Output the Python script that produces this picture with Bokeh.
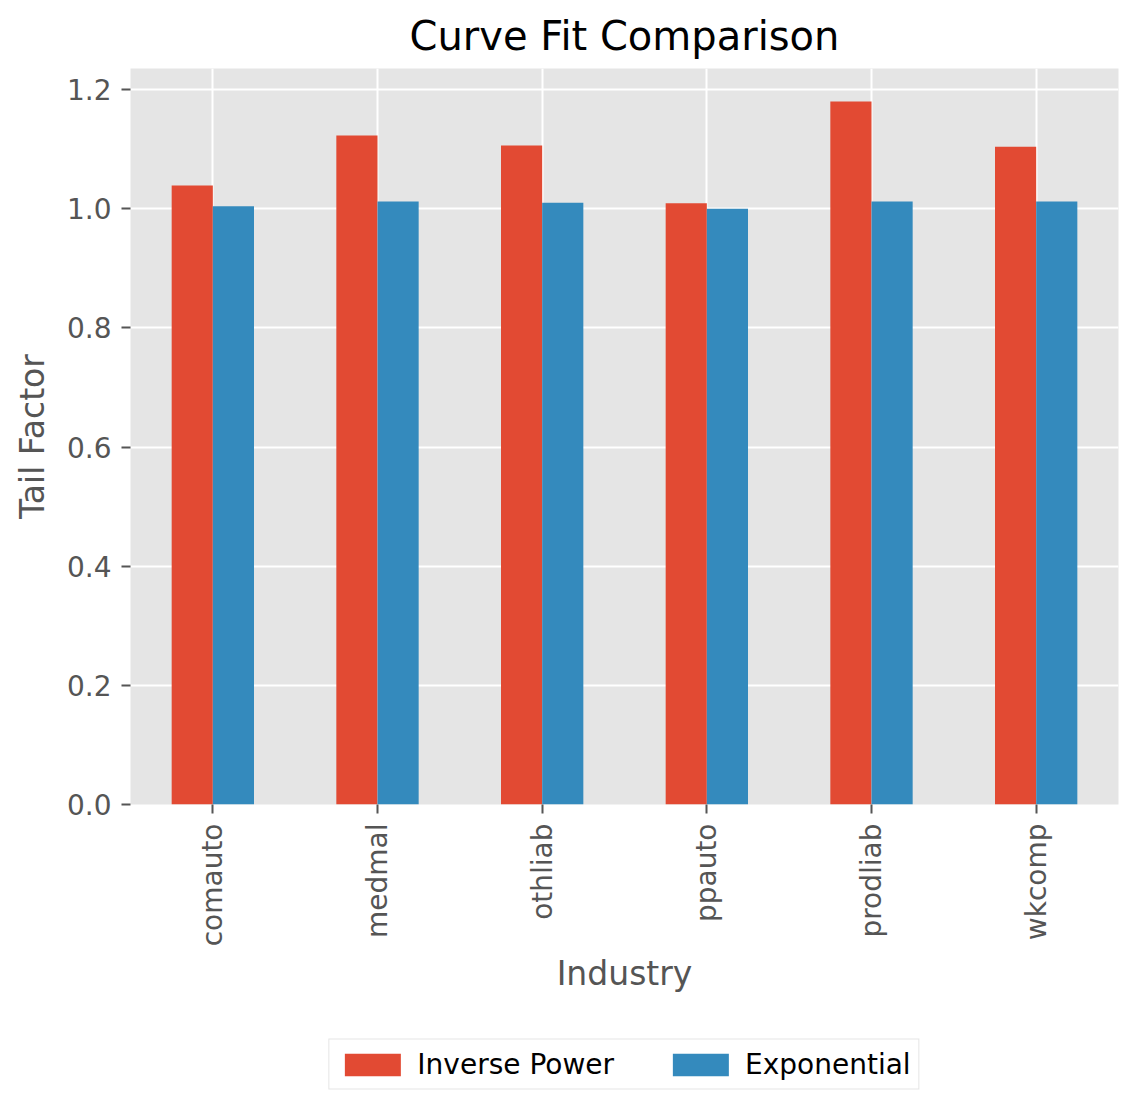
import math
from bokeh.plotting import figure
from bokeh.layouts import column
from bokeh.models import (ColumnDataSource, FactorRange, Range1d, FixedTicker,
                          PrintfTickFormatter, Legend, LegendItem)
from bokeh.transform import dodge
from bokeh.embed import file_html
from bokeh.resources import INLINE

industries = ["comauto", "medmal", "othliab", "ppauto", "prodliab", "wkcomp"]
inverse_power = [1.039, 1.123, 1.106, 1.009, 1.180, 1.104]
exponential = [1.004, 1.012, 1.010, 1.000, 1.012, 1.012]
y_ticks = [0.0, 0.2, 0.4, 0.6, 0.8, 1.0, 1.2]
series_labels = ["Inverse Power", "Exponential"]

FONT = "DejaVu Sans"
RED = "#E24A33"
BLUE = "#348ABD"
GREY = "#555555"

source = ColumnDataSource(dict(industry=industries, ip=inverse_power, ex=exponential))

p = figure(frame_width=988, frame_height=736, x_range=FactorRange(*industries),
           y_range=Range1d(0, 1.2353), output_backend="svg", toolbar_location=None,
           min_border_left=130, min_border_right=14, min_border_top=68,
           min_border_bottom=225)

p.title.text = "Curve Fit Comparison"
p.title.align = "center"
p.title.text_font = FONT
p.title.text_font_size = "40px"
p.title.text_font_style = "normal"
p.title.text_color = "black"
p.title.standoff = 19

p.background_fill_color = "#E5E5E5"
p.border_fill_color = "white"
p.outline_line_color = None

p.vbar(x=dodge("industry", -0.125, range=p.x_range), top="ip", width=0.25,
       source=source, fill_color=RED, line_color=None)
p.vbar(x=dodge("industry", 0.125, range=p.x_range), top="ex", width=0.25,
       source=source, fill_color=BLUE, line_color=None)

for g in (p.xgrid, p.ygrid):
    g.grid_line_color = "white"
    g.grid_line_width = 2

p.yaxis.ticker = FixedTicker(ticks=y_ticks)
p.yaxis.formatter = PrintfTickFormatter(format="%.1f")
p.yaxis.minor_tick_line_color = None

for ax in (p.xaxis, p.yaxis):
    ax.axis_line_color = None
    ax.major_tick_line_color = GREY
    ax.major_tick_line_width = 2
    ax.major_tick_in = 0
    ax.major_tick_out = 9
    ax.major_label_text_font = FONT
    ax.major_label_text_font_size = "28px"
    ax.major_label_text_color = GREY
    ax.major_label_standoff = 10
    ax.axis_label_text_font = FONT
    ax.axis_label_text_font_size = "33px"
    ax.axis_label_text_font_style = "normal"
    ax.axis_label_text_color = GREY

p.xaxis.axis_label = "Industry"
p.yaxis.axis_label = "Tail Factor"
p.xaxis.major_label_orientation = math.pi / 2
p.xaxis.axis_label_standoff = 5
p.yaxis.axis_label_standoff = 12

# legend strip below the chart (its bars lie outside its visible range)
lf = figure(frame_width=988, frame_height=70, x_range=p.x_range, y_range=Range1d(5, 6),
            output_backend="svg", toolbar_location=None,
            min_border_left=130, min_border_right=14, min_border_top=0, min_border_bottom=0)
lf.axis.visible = False
lf.grid.visible = False
lf.outline_line_color = None
lf.background_fill_color = "white"
lf.border_fill_color = "white"
lr1 = lf.vbar(x=dodge("industry", -0.125, range=p.x_range), top="ip", width=0.25,
              source=source, fill_color=RED, line_color=None)
lr2 = lf.vbar(x=dodge("industry", 0.125, range=p.x_range), top="ex", width=0.25,
              source=source, fill_color=BLUE, line_color=None)

legend = Legend(items=[LegendItem(label=series_labels[0], renderers=[lr1]),
                       LegendItem(label=series_labels[1], renderers=[lr2])],
                orientation="horizontal", location="center",
                label_text_font=FONT, label_text_font_size="28px",
                label_text_color="black",
                glyph_width=70, glyph_height=28, label_standoff=10, spacing=51,
                padding=8, margin=0,
                border_line_color="#CCCCCC", border_line_width=1.5,
                background_fill_color="white", background_fill_alpha=1)
lf.add_layout(legend, "center")

layout = column(p, lf, spacing=0)
open("out.html", "w").write(file_html(layout, INLINE))
